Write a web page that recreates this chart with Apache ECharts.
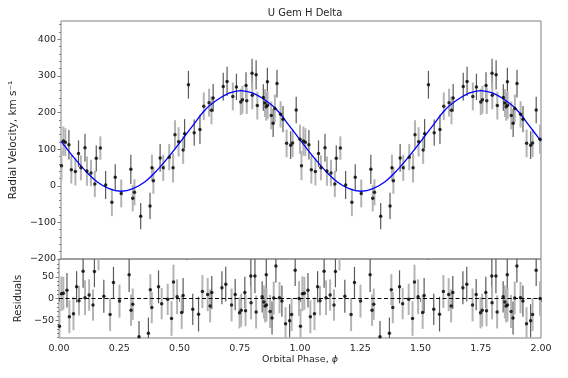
<!DOCTYPE html>
<html>
<head>
<meta charset="utf-8">
<script src="https://cdn.jsdelivr.net/npm/echarts@6/dist/echarts.min.js"></script>
<style>html,body{margin:0;padding:0;background:#fff}#c{width:568px;height:378px}</style>
</head>
<body>
<div id="c"></div>
<script>
// ---- data (one orbital cycle, phase 0-1; plotted twice as in the original) ----
const phase = [0.002,0.010,0.018,0.033,0.043,0.060,0.073,0.083,0.100,0.108,0.125,0.141,0.147,0.164,0.186,0.212,0.226,0.251,0.291,0.299,0.306,0.332,0.371,0.379,0.385,0.413,0.426,0.451,0.467,0.475,0.490,0.509,0.515,0.531,0.555,0.579,0.595,0.617,0.627,0.634,0.676,0.692,0.716,0.731,0.749,0.756,0.771,0.774,0.796,0.797,0.813,0.818,0.843,0.850,0.855,0.860,0.861,0.876,0.884,0.891,0.900,0.915,0.925,0.940,0.957,0.965,0.980,0.996];
const rv = [55,122,119,112,44,39,88,49,104,40,35,5,75,103,2,-45,23,-21,45,-34,-18,-83,-55,49,14,76,49,78,49,139,120,98,142,276,145,154,217,227,206,240,271,285,244,270,229,235,274,232,307,247,303,219,241,226,216,284,220,192,171,211,279,195,182,116,111,117,207,127];
const resid = [-64,11,12,19,-42,-35,27,-5,63,2,8,-15,62,97,5,-37,37,-6,55,-27,-13,-88,-80,20,-21,27,-12,-2,-46,38,4,-32,7,127,-25,-36,16,9,-17,14,25,33,-15,9,-33,-27,14,-28,52,-10,52,-31,4,-8,-17,55,-15,-30,-45,1,75,2,-6,-58,-51,-37,65,0];
const err = [40,40,38,40,38,38,36,34,38,40,36,36,36,32,38,38,36,38,40,36,36,36,36,36,36,38,36,36,40,40,40,38,40,38,36,40,38,38,38,38,38,40,38,36,36,38,36,36,40,38,40,38,36,38,38,38,38,38,38,38,38,36,36,38,38,38,36,40];
// observing run of each spectrum (0 / 1), drawn with different error-bar shades
const run = [0,0,0,1,0,0,1,0,1,0,0,0,1,0,1,0,1,0,1,0,0,1,1,0,0,1,0,0,0,0,0,0,1,1,1,1,0,0,0,1,1,1,0,1,0,0,1,0,1,0,1,0,1,0,0,1,0,0,1,0,1,0,1,0,1,0,1,0];
const cycles = [0, 1];

// fitted sinusoid, read at phase steps of 0.05 over one cycle
const fitPhase = [0,0.05,0.10,0.15,0.20,0.25,0.30,0.35,0.40,0.45,0.50,0.55,0.60,0.65,0.70,0.75,0.80,0.85,0.90,0.95,1.00];
const fitRV = [122,80,42,11,-8,-15,-8,11,42,80,122,165,207,234,253,260,253,234,207,165,122];

// axis ticks
const xTicks = [0,0.25,0.5,0.75,1,1.25,1.5,1.75,2];
const rvTicks = [-200,-100,0,100,200,300,400];
const resTicks = [-50,0,50];
const rvRange = [-200, 450];
const resRange = [-91, 91];

// ---- build series data ----
const pts = [], resPts = [], bars = [], resBars = [], fit = [];
cycles.forEach(c => {
  phase.forEach((p, i) => {
    const x = p + c;
    pts.push([x, rv[i]]);
    resPts.push([x, resid[i]]);
    bars.push([x, rv[i] - err[i], rv[i] + err[i], run[i]]);
    resBars.push([x, resid[i] - err[i], resid[i] + err[i], run[i]]);
  });
});
cycles.forEach((c, k) => {
  fitPhase.forEach((p, i) => {
    if (k > 0 && i === 0) return;
    fit.push([p + c, fitRV[i]]);
  });
});
const minorRV = []; for (let v = rvRange[0]; v < rvRange[1]; v += 20) minorRV.push(v);
const minorRes = []; for (let v = -90; v <= 90; v += 10) minorRes.push(v);

const TXT = '#262626', FRAME = '#808080', FONT = 'DejaVu Sans';
const fmtMinus = v => String(v).replace('-', '\u2212');

function barRender(params, api) {
  const x = api.value(0), lo = api.value(1), hi = api.value(2), r = api.value(3);
  const a = api.coord([x, lo]), b = api.coord([x, hi]);
  return {
    type: 'line',
    shape: { x1: a[0], y1: a[1], x2: b[0], y2: b[1] },
    style: { stroke: r ? '#5a5a5a' : '#b4b4b4', lineWidth: r ? 1.2 : 2 }
  };
}

const chart = echarts.init(document.getElementById('c'), null, { renderer: 'canvas' });
chart.setOption({
  animation: false,
  backgroundColor: '#fff',
  textStyle: { fontFamily: FONT },
  title: {
    text: 'U Gem H Delta', left: 300, top: 3, textAlign: 'center',
    textStyle: { fontFamily: FONT, fontSize: 10, fontWeight: 'normal', color: TXT }
  },
  grid: [
    { left: 59, right: 27, top: 21, height: 238, show: true, borderColor: FRAME, borderWidth: 1 },
    { left: 59, right: 27, top: 259, height: 79, show: true, borderColor: FRAME, borderWidth: 1 }
  ],
  xAxis: [
    { gridIndex: 0, type: 'value', min: 0, max: 2, axisLine: { show: false }, axisTick: { show: false },
      axisLabel: { show: false }, splitLine: { show: false } },
    { gridIndex: 1, type: 'value', min: 0, max: 2,
      axisLine: { show: false },
      axisTick: { show: true, customValues: xTicks, length: 3.5, lineStyle: { color: FRAME } },
      axisLabel: { customValues: xTicks, formatter: v => v.toFixed(2), color: TXT, fontSize: 9.5, fontFamily: FONT, margin: 6 },
      splitLine: { show: false },
      name: 'Orbital Phase, {i|\u03d5}', nameLocation: 'middle', nameGap: 17,
      nameTextStyle: { color: TXT, fontSize: 9.5, fontFamily: FONT,
        rich: { i: { fontStyle: 'italic', fontSize: 9.5, fontFamily: FONT, color: TXT } } } }
  ],
  yAxis: [
    { gridIndex: 0, type: 'value', min: rvRange[0], max: rvRange[1],
      axisLine: { show: false },
      axisTick: { show: true, customValues: rvTicks, length: 3.5, lineStyle: { color: FRAME } },
      axisLabel: { customValues: rvTicks, formatter: fmtMinus, color: TXT, fontSize: 9.5, fontFamily: FONT, margin: 5 },
      splitLine: { show: false },
      name: 'Radial Velocity, km s\u207b\u00b9', nameLocation: 'middle', nameGap: 31,
      nameTextStyle: { color: TXT, fontSize: 10.5, fontFamily: FONT } },
    { gridIndex: 0, type: 'value', min: rvRange[0], max: rvRange[1], position: 'left',
      axisLine: { show: false }, axisLabel: { show: false }, splitLine: { show: false },
      axisTick: { show: true, customValues: minorRV, length: 2, lineStyle: { color: FRAME } } },
    { gridIndex: 1, type: 'value', min: resRange[0], max: resRange[1],
      axisLine: { show: false },
      axisTick: { show: true, customValues: resTicks, length: 3.5, lineStyle: { color: FRAME } },
      axisLabel: { customValues: resTicks, formatter: fmtMinus, color: TXT, fontSize: 9.5, fontFamily: FONT, margin: 5 },
      splitLine: { show: false },
      name: 'Residuals', nameLocation: 'middle', nameGap: 31,
      nameTextStyle: { color: TXT, fontSize: 10, fontFamily: FONT } },
    { gridIndex: 1, type: 'value', min: resRange[0], max: resRange[1], position: 'left',
      axisLine: { show: false }, axisLabel: { show: false }, splitLine: { show: false },
      axisTick: { show: true, customValues: minorRes, length: 2, lineStyle: { color: FRAME } } }
  ],
  series: [
    { type: 'custom', xAxisIndex: 0, yAxisIndex: 0, renderItem: barRender, data: bars, clip: true, z: 1,
      encode: { x: 0, y: [1, 2] }, silent: true },
    { type: 'line', xAxisIndex: 0, yAxisIndex: 0, data: fit, smooth: 0.35, showSymbol: false, symbol: 'none',
      lineStyle: { color: '#0000ff', width: 1.3 }, z: 2, silent: true },
    { type: 'scatter', xAxisIndex: 0, yAxisIndex: 0, data: pts, symbolSize: 3.5, itemStyle: { color: '#000' }, z: 3, clip: true, silent: true },
    { type: 'custom', xAxisIndex: 1, yAxisIndex: 2, renderItem: barRender, data: resBars, clip: true, z: 1,
      encode: { x: 0, y: [1, 2] }, silent: true },
    { type: 'scatter', xAxisIndex: 1, yAxisIndex: 2, data: resPts, symbolSize: 3.5, itemStyle: { color: '#000' }, z: 3, clip: true, silent: true,
      markLine: { silent: true, symbol: 'none', label: { show: false },
        lineStyle: { color: '#000', type: [4, 2.5], width: 1.2 }, data: [{ yAxis: 0 }] } }
  ]
});
</script>
</body>
</html>
